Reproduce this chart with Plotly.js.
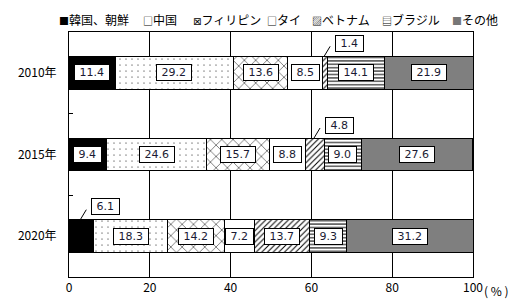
<!DOCTYPE html>
<html>
<head>
<meta charset="utf-8">
<script src="https://cdn.plot.ly/plotly-3.0.1.min.js"></script>
<style>html,body{margin:0;padding:0;background:#fff;}</style>
</head>
<body>
<div id="chart" style="width:526px;height:303px;"></div>
<script>
// ---- data ----
const years = ['2010年', '2015年', '2020年'];
const groups = ['韓国、朝鮮', '中国', 'フィリピン', 'タイ', 'ベトナム', 'ブラジル', 'その他'];
const korea = [11.4, 9.4, 6.1];
const china = [29.2, 24.6, 18.3];
const philippines = [13.6, 15.7, 14.2];
const thai = [8.5, 8.8, 7.2];
const vietnam = [1.4, 4.8, 13.7];
const brazil = [14.1, 9.0, 9.3];
const other = [21.9, 27.6, 31.2];
const xTickVals = [0, 20, 40, 60, 80, 100];
const xTickText = ['0', '20', '40', '60', '80', '100'];
const unitLabel = '( % )';

const seriesValues = [korea, china, philippines, thai, vietnam, brazil, other];

// ---- styles ----
const styles = [
  {color: '#000000'},
  {color: '#ffffff', pattern: {shape: '.', fgcolor: '#000', bgcolor: '#fff', size: 6, solidity: 0.03}},
  {color: '#ffffff', pattern: {shape: 'x', fgcolor: '#000', bgcolor: '#fff', size: 8, solidity: 0.12}},
  {color: '#ffffff'},
  {color: '#ffffff', pattern: {shape: '/', fgcolor: '#000', bgcolor: '#fff', size: 4, solidity: 0.25}},
  {color: '#ffffff', pattern: {shape: '-', fgcolor: '#000', bgcolor: '#fff', size: 3.4, solidity: 0.3}},
  {color: '#7f7f7f'}
];
const legendSymbols = [
  '<span style="color:#000">■</span>',
  '□',
  '<span style="font-family:DejaVu Sans">⊠</span>',
  '□', '▨', '▤',
  '<span style="color:#777">■</span>'
];
const legendPx = [57, 141, 191, 265, 310, 380, 450];

const JP = '"Noto Sans CJK JP", "Noto Sans", sans-serif';
const NUM = '"DejaVu Sans", sans-serif';

const plotL = 69, plotR = 473;
const plotW = plotR - plotL;

const traces = groups.map((g, k) => ({
  type: 'bar',
  orientation: 'h',
  name: g,
  y: years,
  x: seriesValues[k],
  marker: Object.assign({}, styles[k], {line: {color: '#000', width: 1}}),
  hoverinfo: 'x+name'
}));

const annotations = [];
const shapes = [];
const halfBarPx = 16.5;
years.forEach((yr, i) => {
  let cum = 0;
  seriesValues.forEach((vals, k) => {
    const v = vals[i];
    const c = cum + v / 2;
    cum += v;
    const small = v < 7;
    annotations.push({
      x: c, y: yr, xref: 'x', yref: 'y',
      text: '\u00a0' + v.toFixed(1) + '\u00a0',
      showarrow: false,
      font: {family: NUM, size: 11, color: '#1a1a33'},
      bgcolor: '#ffffff', bordercolor: '#000', borderwidth: 1, borderpad: 1,
      xshift: small ? 24 : 0,
      yshift: small ? 29.5 : 0
    });
    if (small) {
      shapes.push({
        type: 'line', xref: 'x', yref: 'y',
        xsizemode: 'pixel', ysizemode: 'pixel',
        xanchor: c, yanchor: i,
        x0: -1, y0: halfBarPx, x1: 5, y1: halfBarPx + 10,
        line: {color: '#000', width: 1}
      });
    }
  });
});

// legend built as text
groups.forEach((g, k) => {
  annotations.push({
    xref: 'paper', yref: 'paper',
    x: (legendPx[k] - plotL) / plotW, y: 1, yshift: 13,
    xanchor: 'left', yanchor: 'middle',
    text: '<span style="font-size:10px">' + legendSymbols[k] + '</span>' + g,
    showarrow: false,
    font: {family: JP, size: 12, color: '#000'}
  });
});

annotations.push({
  xref: 'paper', yref: 'paper', x: 1, y: 0, xshift: 9, yshift: -13,
  xanchor: 'left', yanchor: 'middle',
  text: unitLabel, showarrow: false,
  font: {family: JP, size: 12, color: '#000'}
});

const layout = {
  width: 526, height: 303,
  margin: {l: plotL, r: 526 - plotR, t: 32, b: 26, pad: 0},
  paper_bgcolor: '#fff', plot_bgcolor: '#fff',
  barmode: 'stack', bargap: 0.6,
  showlegend: false,
  xaxis: {
    range: [0, 100], tickvals: xTickVals, ticktext: xTickText,
    showgrid: true, gridcolor: '#000', gridwidth: 1,
    showline: true, mirror: true, linecolor: '#000', linewidth: 1,
    zeroline: false, ticks: '',
    tickfont: {family: JP, size: 12, color: '#000'}
  },
  yaxis: {
    type: 'category', categoryorder: 'array', categoryarray: years,
    range: [2.5, -0.5], autorange: false,
    showgrid: false, showline: true, mirror: true, linecolor: '#000', linewidth: 1,
    ticks: 'inside', tickson: 'boundaries', ticklen: 4, tickcolor: '#000',
    ticklabelstandoff: 9,
    tickfont: {family: JP, size: 12, color: '#000'}
  },
  annotations: annotations,
  shapes: shapes,
  font: {family: JP}
};

Plotly.newPlot('chart', traces, layout, {displayModeBar: false, staticPlot: true});
</script>
</body>
</html>
